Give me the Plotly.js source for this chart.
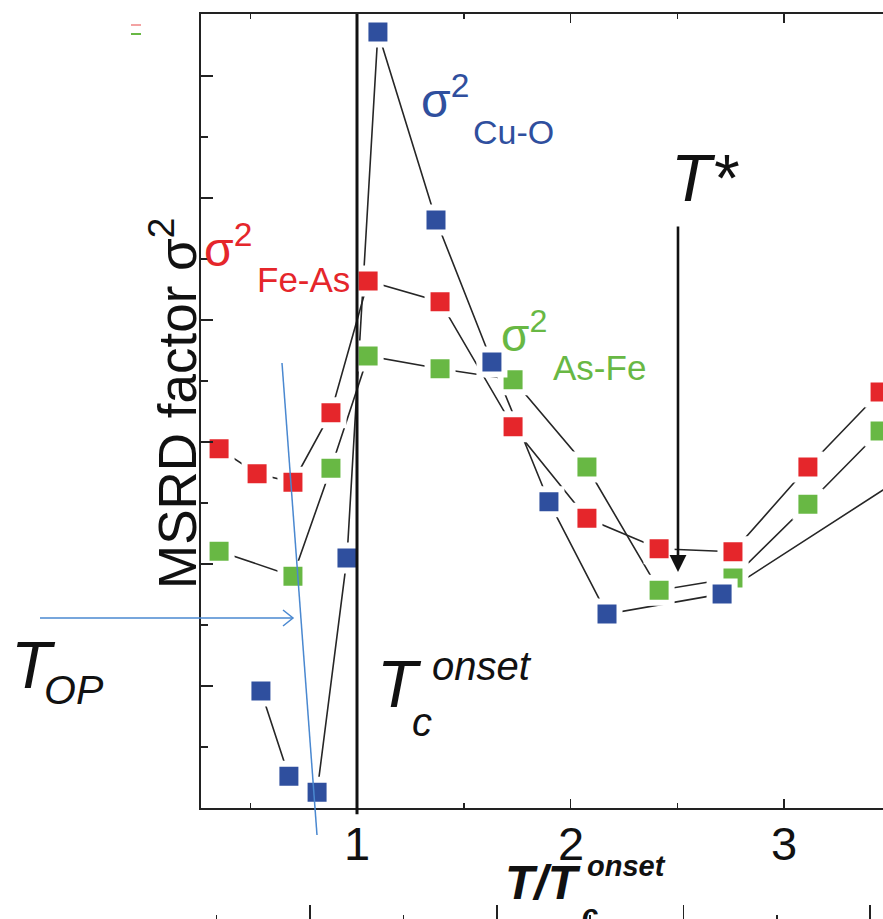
<!DOCTYPE html>
<html>
<head>
<meta charset="utf-8">
<script src="https://cdn.plot.ly/plotly-3.0.1.min.js"></script>
<style>html,body{margin:0;padding:0;background:#fff;}#chart{width:883px;height:919px;}</style>
</head>
<body>
<div id="chart"></div>
<script>
// ---- Data (T/Tc_onset vs MSRD factor, arbitrary units) ----
const xFeAs = [0.354, 0.532, 0.700, 0.878, 1.052, 1.389, 1.731, 2.077, 2.415, 2.761, 3.112, 3.450];
const yFeAs = [5.89, 5.48, 5.34, 6.48, 8.64, 8.30, 6.25, 4.75, 4.25, 4.20, 5.59, 6.82];

const xAsFe = [0.354, 0.700, 0.878, 1.052, 1.389, 1.731, 2.077, 2.415, 2.761, 3.112, 3.450];
const yAsFe = [4.21, 3.80, 5.57, 7.41, 7.20, 7.02, 5.59, 3.57, 3.77, 4.98, 6.18];

const xCuO = [0.550, 0.681, 0.813, 0.953, 1.098, 1.370, 1.632, 1.899, 2.171, 2.710, 3.600];
const yCuO = [1.92, 0.52, 0.26, 4.10, 12.72, 9.64, 7.31, 5.02, 3.18, 3.51, 5.52];

const xTickVals = [1, 2, 3];
const xTickText = ['1', '2', '3'];

// ---- Styles ----
const RED = '#e5262b', GREEN = '#68b844', BLUE = '#2f4f9e';
const FONT = 'Arial, "Liberation Sans", sans-serif';
const W = 883, H = 919, L = 201;
const PX = px => (px - L) / (W - L);
const PY = py => (H - py) / H;

const lineTrace = (x, y) => ({
  type: 'scatter', mode: 'lines', x: x, y: y,
  line: {color: '#262626', width: 1.6}, hoverinfo: 'skip'
});
const markerTrace = (x, y, c) => ({
  type: 'scatter', mode: 'markers', x: x, y: y,
  marker: {symbol: 'square', size: 25, color: c, line: {color: '#ffffff', width: 6}},
  hoverinfo: 'skip'
});

const data = [
  lineTrace(xFeAs, yFeAs), lineTrace(xAsFe, yAsFe), lineTrace(xCuO, yCuO),
  markerTrace(xFeAs, yFeAs, RED), markerTrace(xAsFe, yAsFe, GREEN), markerTrace(xCuO, yCuO, BLUE),
  {type: 'scatter', mode: 'markers', x: [], y: [], xaxis: 'x2', yaxis: 'y', hoverinfo: 'skip'}
];

const ann = (px, py, text, size, color, extra) => Object.assign({
  xref: 'paper', yref: 'paper', x: PX(px), y: PY(py), xanchor: 'left', yanchor: 'middle',
  text: text, showarrow: false, font: {family: FONT, size: size, color: color}
}, extra || {});

const tickAnns = xTickVals.map((v, i) => ({
  xref: 'x', yref: 'paper', x: v, y: PY(843), xanchor: 'center', yanchor: 'middle',
  text: xTickText[i], showarrow: false, font: {family: FONT, size: 47, color: '#111'}
}));

const layout = {
  width: W, height: H,
  margin: {l: L, r: 0, t: 0, b: 0, pad: 0},
  paper_bgcolor: '#ffffff', plot_bgcolor: '#ffffff',
  showlegend: false,
  xaxis: {
    range: [0.2693, 3.4637], anchor: 'y',
    tickmode: 'array', tickvals: xTickVals, ticktext: xTickText,
    ticks: 'inside', ticklen: 9, tickwidth: 1.8, tickcolor: '#222',
    showline: true, linecolor: '#222', linewidth: 2, mirror: 'allticks',
    showgrid: false, zeroline: false, showticklabels: false,
    minor: {tickmode: 'linear', tick0: 0.5, dtick: 1, ticks: 'inside', ticklen: 5, tickwidth: 1.5, tickcolor: '#222', showgrid: false}
  },
  yaxis: {
    domain: [(H - 808) / H, (H - 14) / H],
    range: [0, 13.016], tick0: 0, dtick: 2,
    ticks: 'inside', ticklen: 12, tickwidth: 1.8, tickcolor: '#222',
    showticklabels: false, showline: true, linecolor: '#222', linewidth: 2, mirror: false,
    showgrid: false, zeroline: false,
    minor: {tick0: 1, dtick: 2, ticks: 'inside', ticklen: 7, tickwidth: 1.5, tickcolor: '#222', showgrid: false}
  },
  xaxis2: {
    overlaying: 'x', anchor: 'free', position: 0, side: 'bottom',
    range: [0.416, 4.069], tick0: 0, dtick: 1,
    ticks: 'inside', ticklen: 14, tickwidth: 1.8, tickcolor: '#222',
    showline: false, showticklabels: false, showgrid: false, zeroline: false,
    minor: {dtick: 0.5, ticks: 'inside', ticklen: 4, tickwidth: 1.5, tickcolor: '#222', showgrid: false}
  },
  shapes: [
    {type: 'line', xref: 'x', yref: 'y domain', x0: 1, x1: 1, y0: -0.008, y1: 1, layer: 'above', line: {color: '#111', width: 3}},
    {type: 'line', xref: 'paper', yref: 'paper', x0: PX(282), y0: PY(363), x1: PX(317), y1: PY(835), line: {color: '#4a88d0', width: 1.5}},
    {type: 'line', xref: 'paper', yref: 'paper', x0: PX(40), y0: PY(618), x1: PX(293), y1: PY(618), line: {color: '#4a88d0', width: 1.5}},
    {type: 'path', xref: 'paper', yref: 'paper',
     path: 'M ' + PX(283) + ' ' + PY(610) + ' L ' + PX(293) + ' ' + PY(618) + ' L ' + PX(283) + ' ' + PY(626),
     line: {color: '#4a88d0', width: 1.5}},
    {type: 'line', xref: 'paper', yref: 'paper', x0: PX(131), y0: PY(25), x1: PX(141), y1: PY(25), line: {color: '#f3a3a3', width: 2}},
    {type: 'line', xref: 'paper', yref: 'paper', x0: PX(131), y0: PY(34), x1: PX(141), y1: PY(34), line: {color: GREEN, width: 2}}
  ],
  annotations: tickAnns.concat([
    ann(174, 404, 'MSRD factor σ<sup>2</sup>', 53, '#111', {xanchor: 'center', textangle: -90}),
    ann(202, 246, 'σ<sup>2</sup>', 48, RED),
    ann(255, 280, 'Fe-As', 35, RED),
    ann(419, 97, 'σ<sup>2</sup>', 48, BLUE),
    ann(471, 132, 'Cu-O', 34, BLUE),
    ann(499, 332, 'σ<sup>2</sup>', 46, GREEN),
    ann(551, 368, 'As-Fe', 35, GREEN),
    ann(669, 178, '<i>T*</i>', 66, '#111'),
    ann(9, 665, '<i>T</i>', 66, '#111'),
    ann(42, 690, '<i>OP</i>', 41, '#111'),
    ann(375, 684, '<i>T</i>', 66, '#111'),
    ann(430, 666, '<i>onset</i>', 40, '#111'),
    ann(410, 722, '<i>c</i>', 40, '#111'),
    ann(503, 882, '<b><i>T/T</i></b>', 48, '#111'),
    ann(585, 866, '<b><i>onset</i></b>', 29, '#111'),
    ann(580, 915, '<b><i>c,</i></b>', 29, '#111'),
    {xref: 'paper', yref: 'paper', x: PX(678), y: PY(572), ax: 0, ay: -347, axref: 'pixel', ayref: 'pixel',
     text: '', showarrow: true, arrowhead: 2, arrowsize: 1.3, arrowwidth: 2.6, arrowcolor: '#111', standoff: 0, startstandoff: 0}
  ])
};

Plotly.newPlot('chart', data, layout, {staticPlot: true, displayModeBar: false});
</script>
</body>
</html>
